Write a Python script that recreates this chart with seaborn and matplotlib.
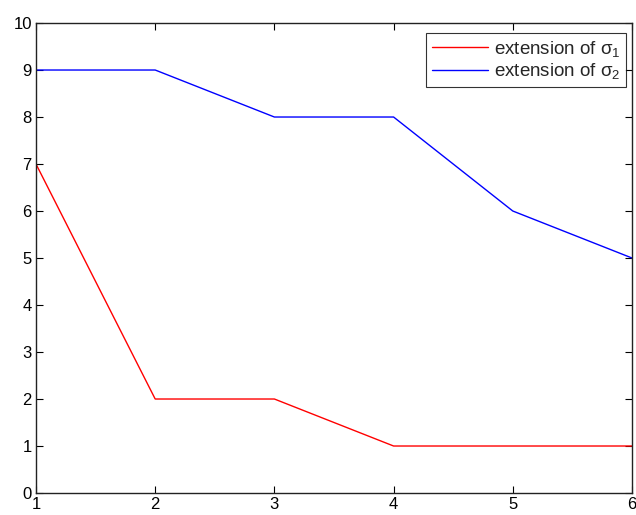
import seaborn as sns
import pandas as pd
import matplotlib
matplotlib.use("Agg")
import matplotlib.pyplot as plt

x_vals = [1, 2, 3, 4, 5, 6]
sigma1 = [7, 2, 2, 1, 1, 1]
sigma2 = [9, 9, 8, 8, 6, 5]
labels = ["extension of $\\sigma_1$", "extension of $\\sigma_2$"]

df = pd.DataFrame({
    "x": x_vals * 2,
    "y": sigma1 + sigma2,
    "series": [labels[0]] * 6 + [labels[1]] * 6,
})

sns.set_theme(style="white")
plt.rcParams["font.family"] = ["Liberation Sans", "DejaVu Sans"]
plt.rcParams["mathtext.fontset"] = "custom"
plt.rcParams["mathtext.rm"] = "Liberation Sans"
plt.rcParams["mathtext.it"] = "Liberation Sans"

fig = plt.figure(figsize=(6.36, 5.15), dpi=100)
ax = fig.add_axes([0.0566, 0.0427, 0.9371, 0.9126])

sns.lineplot(data=df, x="x", y="y", hue="series", palette=["#ff0000", "#0000ff"],
             linewidth=1.0, ax=ax)

ax.set_xlim(1, 6)
ax.set_ylim(0, 10)
ax.set_xticks(range(1, 7))
ax.set_yticks(range(0, 11))
ax.set_xlabel("")
ax.set_ylabel("")
ax.tick_params(direction="in", length=5, width=0.8, colors="black", labelsize=12,
               pad=3, top=True, right=True, bottom=True, left=True)
for s in ax.spines.values():
    s.set_color("#222222")
    s.set_linewidth(1.0)

leg = ax.legend(loc="upper right", bbox_to_anchor=(0.99, 0.979), borderaxespad=0,
                fontsize=13.5, frameon=True, fancybox=False, edgecolor="black",
                handlelength=3.0, handletextpad=0.3, labelspacing=0.15,
                borderpad=0.3)
leg.get_frame().set_linewidth(0.8)

fig.savefig("out.png", dpi=100)
